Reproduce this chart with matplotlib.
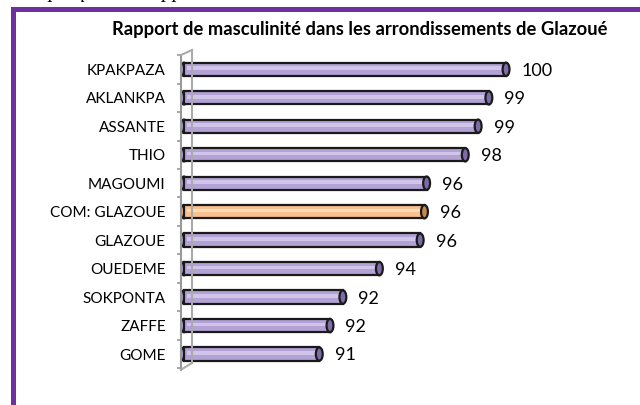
import matplotlib
matplotlib.use("Agg")
import matplotlib.pyplot as plt
from matplotlib.patches import Ellipse, Rectangle
from matplotlib.lines import Line2D

categories = ["KPAKPAZA", "AKLANKPA", "ASSANTE", "THIO", "MAGOUMI", "COM: GLAZOUE",
              "GLAZOUE", "OUEDEME", "SOKPONTA", "ZAFFE", "GOME"]
values = [100.0, 99.2, 98.7, 98.1, 96.3, 96.2, 96.0, 94.1, 92.4, 91.8, 91.3]
labels = ["100", "99", "99", "98", "96", "96", "96", "94", "92", "92", "91"]
highlight = "COM: GLAZOUE"

W, H = 640, 405
fig = plt.figure(figsize=(W / 100, H / 100), dpi=100)
fig.patch.set_facecolor("white")

# chart frame (purple border at top and left)
purple = "#7030A0"
fig.add_artist(Rectangle((11 / W, 1 - 12 / H), 1, 5 / H, transform=fig.transFigure,
                         facecolor=purple, edgecolor="none"))
fig.add_artist(Rectangle((11 / W, 0), 5 / W, 1 - 7 / H, transform=fig.transFigure,
                         facecolor=purple, edgecolor="none"))

# cut caption above (only descenders visible)
fig.text(15 / W, 1 + 2.5 / H, "Graphique 4 : Rapport de masculinité dans la commune de Glazoué",
         fontsize=15, family="Liberation Serif", style="italic", va="baseline", ha="left")

L, R, T, B = 181, 600, 55.1, 369.7
ax = fig.add_axes([L / W, 1 - B / H, (R - L) / W, (B - T) / H])
ppu = 21.47
x0 = 85 - 3 / ppu
ax.set_xlim(x0, x0 + (R - L) / ppu)
n = len(categories)
ax.set_ylim(n - 0.45, -0.45)

ys = list(range(n))
bh = 0.47
colors = ["#FAC090" if c == highlight else "#B3A2D6" for c in categories]
light = ["#FFDDBB" if c == highlight else "#D0C4E8" for c in categories]
dark = ["#C8874F" if c == highlight else "#7E6CA8" for c in categories]

ax.barh(ys, [v - 85 for v in values], left=85, height=bh, color=colors,
        edgecolor="#1a1a1a", linewidth=1.6, zorder=3)
ax.barh([y - 0.04 for y in ys], [v - 85.3 for v in values], left=85.15, height=0.13,
        color=light, edgecolor="none", zorder=4)
for y, v, c in zip(ys, values, dark):
    ax.add_patch(Ellipse((85, y), 0.3, bh, facecolor=colors[y], edgecolor="#1a1a1a",
                         linewidth=1.6, zorder=2))
    ax.add_patch(Ellipse((v, y), 0.32, bh, facecolor=c, edgecolor="#1a1a1a",
                         linewidth=1.6, zorder=5))

for y, v, lab in zip(ys, values, labels):
    ax.text(v + 0.72, y + 0.05, lab, va="center", ha="left", fontsize=13,
            family="Lato", color="black")

ax.set_yticks(ys)
ax.set_yticklabels(categories, family="Lato", fontsize=11)
ax.set_yticks([i - 0.5 for i in range(n + 1)], minor=True)
ax.tick_params(axis="y", which="major", length=0, pad=11)
ax.tick_params(axis="y", which="minor", length=3, color="#999999", width=1.2)
ax.set_xticks([])
for s in ["top", "right", "bottom"]:
    ax.spines[s].set_visible(False)
ax.spines["left"].set_color("#999999")
ax.spines["left"].set_linewidth(1.5)

# 3D wall back edge
gray = "#aaaaaa"
def fl(xs, ys_):
    fig.add_artist(Line2D([x / W for x in xs], [1 - y / H for y in ys_],
                          transform=fig.transFigure, color=gray, linewidth=1.5, zorder=1))
fl([192, 192], [50, 363])
fl([181, 192], [55, 50])
fl([181, 192], [369.7, 363])

fig.text(360 / W, 1 - 30 / H, "Rapport de masculinité dans les arrondissements de Glazoué",
         ha="center", va="center", fontsize=13.2, fontweight="bold", family="Lato")

fig.savefig("out.png", dpi=100, facecolor="white")
